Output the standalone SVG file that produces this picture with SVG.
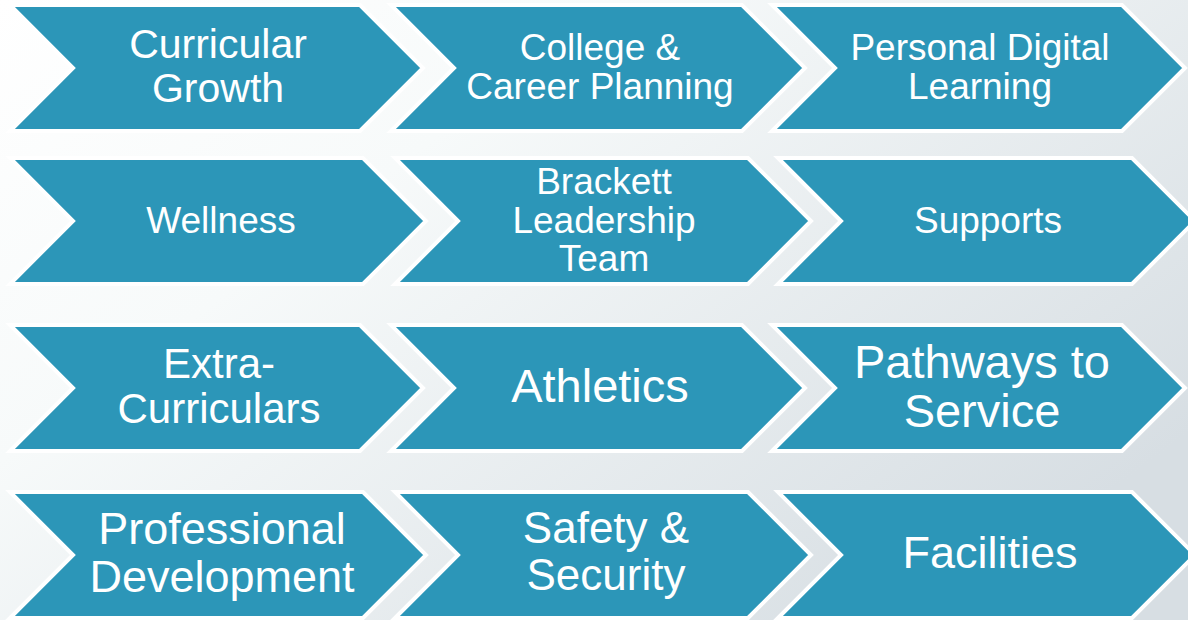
<svg xmlns="http://www.w3.org/2000/svg" width="1188" height="620" viewBox="0 0 1188 620">
  <defs>
    <linearGradient id="bg" x1="0" y1="0" x2="1" y2="0.7">
      <stop offset="0" stop-color="#ffffff"/>
      <stop offset="0.35" stop-color="#f7fafa"/>
      <stop offset="1" stop-color="#d7dee3"/>
    </linearGradient>
  </defs>
  <style>
    .chev { fill: #2C96B8; stroke: #ffffff; stroke-width: 4; stroke-linejoin: miter; }
    .lbl { fill: #ffffff; font-family: "Liberation Sans", Arial, sans-serif; text-anchor: middle; }
  </style>
  <rect x="0" y="0" width="1188" height="620" fill="url(#bg)"/>
  <g id="connectors"/>

  <!-- Row 1 -->
  <g id="curricular-growth">
    <polygon class="chev" points="10,5 360,5 423,68 360,131 10,131 73,68"/>
    <text class="lbl" font-size="41"><tspan x="218" y="58">Curricular</tspan><tspan x="218" y="102">Growth</tspan></text>
  </g>
  <g id="college-career">
    <polygon class="chev" points="391,5 742,5 805,68 742,131 391,131 454,68"/>
    <text class="lbl" font-size="37"><tspan x="600" y="60">College &amp;</tspan><tspan x="600" y="99">Career Planning</tspan></text>
  </g>
  <g id="personal-digital">
    <polygon class="chev" points="772,5 1122,5 1185,68 1122,131 772,131 835,68"/>
    <text class="lbl" font-size="37"><tspan x="980" y="60">Personal Digital</tspan><tspan x="980" y="99">Learning</tspan></text>
  </g>

  <!-- Row 2 -->
  <g id="wellness">
    <polygon class="chev" points="10,158 363,158 426,221 363,284 10,284 73,221"/>
    <text class="lbl" font-size="37"><tspan x="221" y="233">Wellness</tspan></text>
  </g>
  <g id="brackett-leadership">
    <polygon class="chev" points="395,158 748,158 811,221 748,284 395,284 458,221"/>
    <text class="lbl" font-size="37"><tspan x="604" y="194">Brackett</tspan><tspan x="604" y="233">Leadership</tspan><tspan x="604" y="271">Team</tspan></text>
  </g>
  <g id="supports">
    <polygon class="chev" points="778,158 1132,158 1195,221 1132,284 778,284 841,221"/>
    <text class="lbl" font-size="37"><tspan x="988" y="233">Supports</tspan></text>
  </g>

  <!-- Row 3 -->
  <g id="extra-curriculars">
    <polygon class="chev" points="10,325 360,325 423,388 360,451 10,451 73,388"/>
    <text class="lbl" font-size="42"><tspan x="219" y="378">Extra-</tspan><tspan x="219" y="423">Curriculars</tspan></text>
  </g>
  <g id="athletics">
    <polygon class="chev" points="391,325 742,325 805,388 742,451 391,451 454,388"/>
    <text class="lbl" font-size="47"><tspan x="600" y="402">Athletics</tspan></text>
  </g>
  <g id="pathways">
    <polygon class="chev" points="772,325 1122,325 1185,388 1122,451 772,451 835,388"/>
    <text class="lbl" font-size="47"><tspan x="982" y="378">Pathways to</tspan><tspan x="982" y="427">Service</tspan></text>
  </g>

  <!-- Row 4 -->
  <g id="professional-development">
    <polygon class="chev" points="10,492 363,492 426,555 363,618 10,618 73,555"/>
    <text class="lbl" font-size="45"><tspan x="222" y="544">Professional</tspan><tspan x="222" y="592">Development</tspan></text>
  </g>
  <g id="safety-security">
    <polygon class="chev" points="395,492 748,492 811,555 748,618 395,618 458,555"/>
    <text class="lbl" font-size="44"><tspan x="606" y="543">Safety &amp;</tspan><tspan x="606" y="590">Security</tspan></text>
  </g>
  <g id="facilities">
    <polygon class="chev" points="778,492 1132,492 1195,555 1132,618 778,618 841,555"/>
    <text class="lbl" font-size="45"><tspan x="990" y="568">Facilities</tspan></text>
  </g>
</svg>
